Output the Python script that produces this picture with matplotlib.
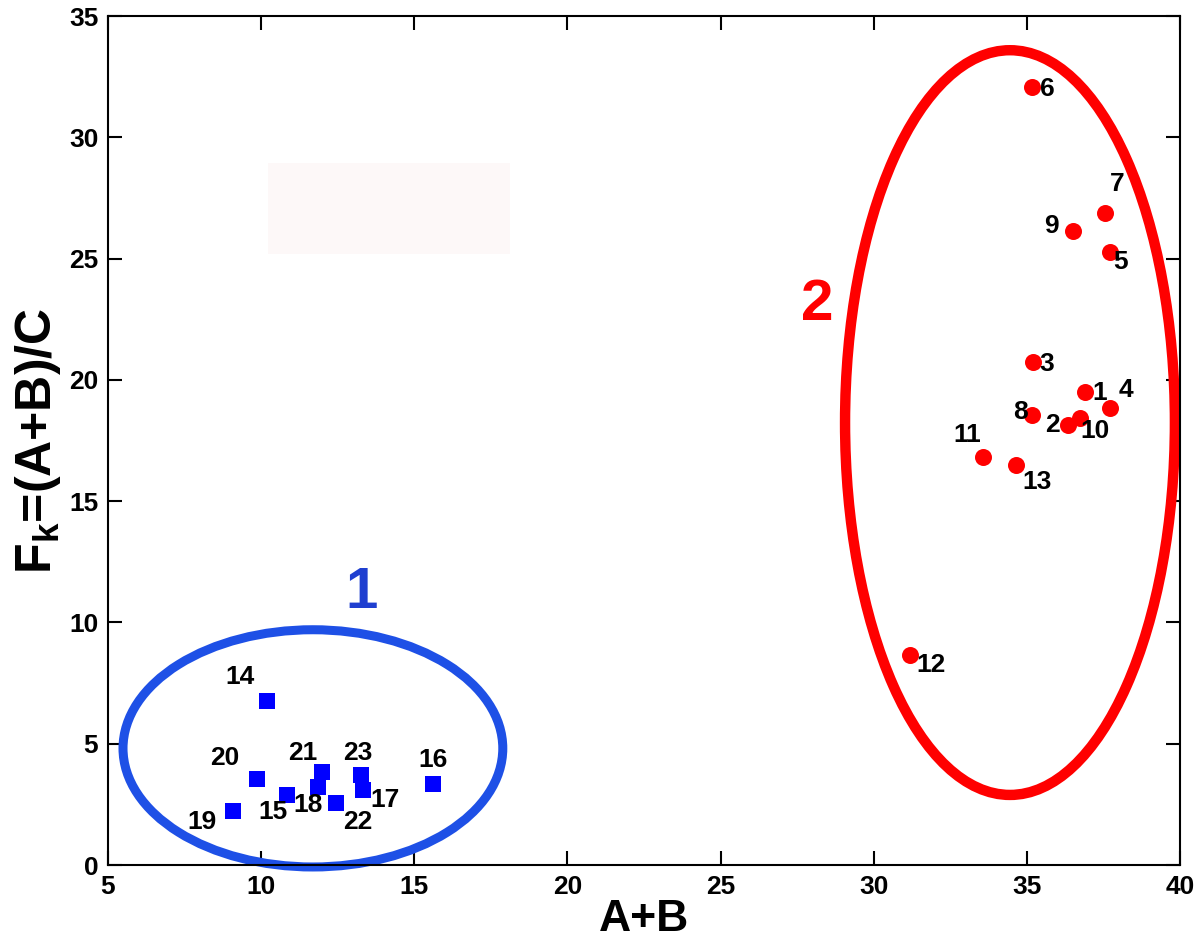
import matplotlib
matplotlib.use("Agg")
import matplotlib.pyplot as plt
from matplotlib.patches import Ellipse, Rectangle

plt.rcParams["font.family"] = ["Liberation Sans", "DejaVu Sans"]
plt.rcParams["font.weight"] = "bold"
plt.rcParams["mathtext.fontset"] = "custom"
plt.rcParams["mathtext.rm"] = "Liberation Sans:bold"
plt.rcParams["mathtext.bf"] = "Liberation Sans:bold"
plt.rcParams["mathtext.it"] = "Liberation Sans:bold"

# cluster 2 (red circles)
red_ids = ["1", "2", "3", "4", "5", "6", "7", "8", "9", "10", "11", "12", "13"]
red_x = [36.90, 36.34, 35.20, 37.71, 37.71, 35.17, 37.55, 35.17, 36.50, 36.73, 33.57, 31.18, 34.64]
red_y = [19.52, 18.16, 20.72, 18.86, 25.26, 32.07, 26.87, 18.57, 26.12, 18.41, 16.84, 8.67, 16.51]
# label offsets in pixels (dx right, dy up)
red_off = [(15, -1), (-15, 0), (14, -2), (16, 18), (11, -10), (15, -2), (12, 29),
           (-12, 3), (-21, 5), (15, -13), (-16, 22), (21, -10), (21, -17)]

# cluster 1 (blue squares)
blue_ids = ["14", "15", "16", "17", "18", "19", "20", "21", "22", "23"]
blue_x = [10.19, 10.84, 15.61, 13.33, 11.86, 9.08, 9.86, 11.99, 12.44, 13.26]
blue_y = [6.77, 2.89, 3.34, 3.10, 3.22, 2.23, 3.55, 3.84, 2.56, 3.71]
blue_off = [(-27, 24), (-14, -17), (0, 24), (22, -10), (-10, -18), (-31, -11),
            (-32, 21), (-19, 19), (22, -19), (-3, 22)]

fig = plt.figure(figsize=(12, 9.42), dpi=100)
ax = fig.add_axes([0.09, 0.0817, 0.8933, 0.9013])

# faint pink box present in the original image
ax.add_patch(Rectangle((10.22, 25.18), 7.9, 3.75, facecolor="#fdf8f8",
                       edgecolor="none", zorder=0))

ax.scatter(red_x, red_y, s=150, marker="o", color="#ff0000", zorder=3, linewidths=0)
ax.scatter(blue_x, blue_y, s=125, marker="s", color="#0000ff", zorder=3, linewidths=0)

for lab, x, y, off in zip(red_ids, red_x, red_y, red_off):
    ax.annotate(lab, (x, y), xytext=off, textcoords="offset pixels",
                ha="center", va="center", fontsize=19, fontweight="bold", zorder=4)
for lab, x, y, off in zip(blue_ids, blue_x, blue_y, blue_off):
    ax.annotate(lab, (x, y), xytext=off, textcoords="offset pixels",
                ha="center", va="center", fontsize=19, fontweight="bold", zorder=4)

ax.add_patch(Ellipse((11.69, 4.81), 12.4, 9.78, fill=False, edgecolor="#1e50e6",
                     lw=6.5, clip_on=False, zorder=2))
ax.add_patch(Ellipse((34.45, 18.24), 10.77, 30.7, fill=False, edgecolor="#ff0000",
                     lw=7.5, clip_on=False, zorder=2))

ax.text(13.29, 11.2, "1", color="#1f3fd0", fontsize=42, fontweight="bold",
        ha="center", va="center")
ax.text(28.15, 23.07, "2", color="#ff0000", fontsize=42, fontweight="bold",
        ha="center", va="center")

ax.set_xlim(5, 40)
ax.set_ylim(0, 35)
ax.set_xticks(range(5, 41, 5))
ax.set_yticks(range(0, 36, 5))
ax.tick_params(direction="in", length=10, width=1.5, top=True, right=True,
               labelsize=19, pad=7)
for lbl in ax.get_xticklabels() + ax.get_yticklabels():
    lbl.set_fontweight("bold")
for sp in ax.spines.values():
    sp.set_linewidth(1.5)

ax.set_xlabel("A+B", fontsize=32, fontweight="bold", labelpad=0)
ax.set_ylabel(r"F$_\mathbf{k}$=(A+B)/C", fontsize=36, fontweight="bold", labelpad=4)

fig.savefig("out.png", dpi=100)
